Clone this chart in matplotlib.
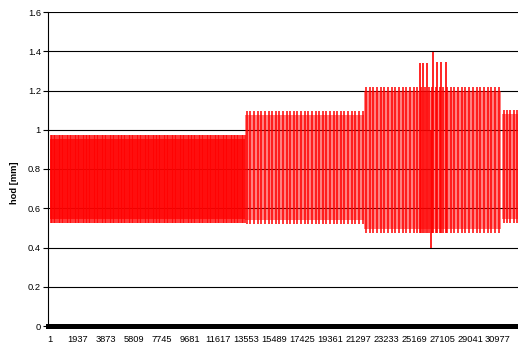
import numpy as np
import matplotlib
matplotlib.use('Agg')
from matplotlib import pyplot as plt

# measurement blocks: sample index range, envelope and cycle length (samples)
seg_start = [1, 13490, 21715, 31260]
seg_end = [13490, 21715, 31170, 32360]
seg_upper = [0.975, 1.097, 1.220, 1.100]
seg_lower = [0.523, 0.520, 0.472, 0.526]
seg_cycle = [110, 250, 255, 230]

# single cycles that go beyond the block envelope
peak_idx = [25566, 25815, 26091, 26485, 26783, 27038, 27363]
peak_hi = [1.338, 1.338, 1.338, 1.395, 1.345, 1.345, 1.345]
dip_idx = [26326]
dip_lo = [0.397]

x_ticks = list(range(1, 32000, 1936))
y_ticks = [0, 0.2, 0.4, 0.6, 0.8, 1.0, 1.2, 1.4, 1.6]
y_labels = ['0', '0.2', '0.4', '0.6', '0.8', '1', '1.2', '1.4', '1.6']

# how dense the fill between the cycles looks, per block
fill_alpha = [0.75, 0.5, 0.5, 0.5]

plt.rcParams['font.family'] = ['Liberation Sans', 'DejaVu Sans']

fig = plt.figure(figsize=(5.18, 3.47), dpi=100)
ax = fig.add_axes([48 / 518, 21 / 347, 470 / 518, 314 / 347])

# grid behind the data
for y in y_ticks[1:]:
    ax.axhline(y, color='black', lw=0.8, zorder=1)

for s, e, hi, lo, c, a in zip(seg_start, seg_end, seg_upper, seg_lower,
                              seg_cycle, fill_alpha):
    ax.fill_between([s, e], lo + 0.02, hi - 0.02, color='red', alpha=a,
                    lw=0, zorder=2)
    xs = np.arange(s + c / 2, e, c)
    ax.vlines(xs, lo, hi, color='red', lw=1.1, zorder=3)

ax.vlines(peak_idx, 0.472, peak_hi, color='red', lw=1.2, zorder=3)
ax.vlines(dip_idx, dip_lo, 1.0, color='red', lw=1.2, zorder=3)

ax.set_xlim(-130, 32360)
ax.set_ylim(0, 1.6)

ax.set_yticks(y_ticks)
ax.set_yticklabels(y_labels)
ax.set_xticks(x_ticks)
ax.set_xticklabels([str(v) for v in x_ticks])
ax.tick_params(axis='y', length=3.6, width=0.8, pad=1.5, labelsize=6.7)
ax.tick_params(axis='x', length=0, pad=6.5, labelsize=6.7)

ax.spines['right'].set_visible(False)
ax.spines['top'].set_visible(False)
ax.spines['left'].set_linewidth(0.8)
ax.spines['bottom'].set_linewidth(3.6)
ax.spines['bottom'].set_zorder(4)

ax.set_ylabel('hod [mm]', fontsize=6.7, fontweight='bold')
ax.yaxis.set_label_coords(-0.062, 0.456)

fig.savefig('out.png', dpi=100)
